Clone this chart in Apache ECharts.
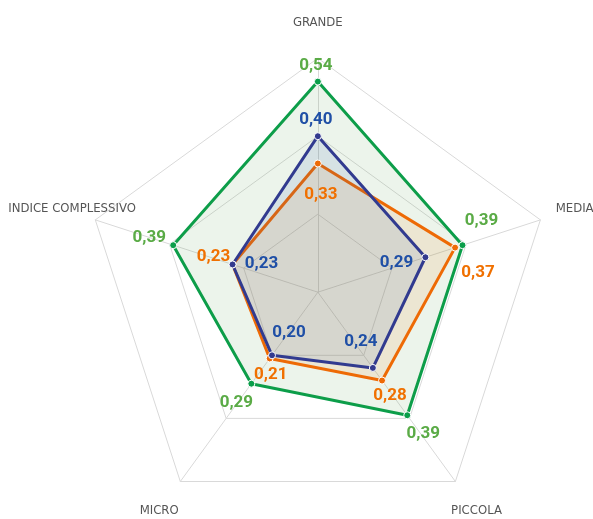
<!DOCTYPE html>
<html>
<head>
<meta charset="utf-8">
<script src="https://cdn.jsdelivr.net/npm/echarts@6/dist/echarts.min.js"></script>
<style>
    html, body { margin: 0; padding: 0; background: #fff; }
    #chart { width: 593px; height: 519px; }
</style>
</head>
<body>
<div id="chart"></div>
<script>
// radar runs counterclockwise from the top
const indicators = ['GRANDE', 'INDICE COMPLESSIVO', 'MICRO', 'PICCOLA', 'MEDIA'];
const maxValue = 0.6;
const valuesGreen = [0.54, 0.39, 0.29, 0.39, 0.39];
const valuesOrange = [0.33, 0.23, 0.21, 0.28, 0.37];
const valuesBlue = [0.40, 0.23, 0.20, 0.24, 0.29];

const nameFont = '"Liberation Sans Narrow", "DejaVu Sans Condensed", sans-serif';

// label offsets (px) from each point, same order as indicators
const offGreen = [[-2, -16], [-24, -7], [-15, 19], [16, 19], [19, -24]];
const offOrange = [[3, 31], [-19, -8], [1, 16], [8, 15], [23, 25]];
const offBlue = [[-2, -16], [29, -1], [17, -23], [-12, -26], [-29, 6]];

function fmt(v) {
    return v.toFixed(2).replace('.', ',');
}

// one hidden item per point, so every label can sit where it wants
function labelItems(values, color, offsets) {
    return values.map(function (v, i) {
        return {
            value: values.map(function (x, j) { return j === i ? x : -1; }),
            symbolSize: 1,
            itemStyle: { color: 'rgba(0,0,0,0)', borderWidth: 0 },
            lineStyle: { opacity: 0 },
            label: {
                show: true,
                color: color,
                position: ['50%', '50%'],
                align: 'center',
                verticalAlign: 'middle',
                offset: offsets[i]
            }
        };
    });
}

function mainSeries(name, values, lineColor, areaColor) {
    return {
        type: 'radar',
        name: name,
        symbol: 'circle',
        symbolSize: 7,
        itemStyle: { color: lineColor, borderColor: '#fff', borderWidth: 1 },
        lineStyle: { color: lineColor, width: 3 },
        areaStyle: { color: areaColor },
        label: { show: false },
        data: [{ value: values, name: name }]
    };
}

let chart = echarts.init(document.getElementById('chart'));

const option = {
    animation: false,
    radar: {
        center: ['53.6%', '56.3%'],
        radius: 234,
        splitNumber: 3,
        shape: 'polygon',
        nameGap: 36,
        indicator: indicators.map(function (n) {
            return { name: n, min: 0, max: maxValue };
        }),
        axisName: {
            color: '#555',
            fontSize: 13,
            fontFamily: nameFont,
            align: 'center',
            verticalAlign: 'middle',
            formatter: function (name) {
                return name === 'INDICE COMPLESSIVO' ? '{shift|' + name + '}' : name;
            },
            rich: {
                shift: { color: '#555', fontSize: 13, fontFamily: nameFont, padding: [0, 0, 0, 22] }
            }
        },
        axisLine: { lineStyle: { color: '#d9d9d9', width: 1 } },
        splitLine: { lineStyle: { color: '#d9d9d9', width: 1 } },
        splitArea: { show: false }
    },
    series: [
        mainSeries('Verde', valuesGreen, '#0a9e4a', 'rgba(75,155,62,0.15)'),
        mainSeries('Arancio', valuesOrange, '#ee6a06', 'rgba(240,110,0,0.15)'),
        mainSeries('Blu', valuesBlue, '#333a8e', 'rgba(31,79,166,0.15)'),
        {
            type: 'radar',
            name: 'etichette',
            silent: true,
            symbol: 'circle',
            label: {
                fontFamily: 'Roboto, sans-serif',
                fontWeight: 'bold',
                fontSize: 17,
                formatter: function (p) {
                    return p.value < 0 ? '' : fmt(p.value);
                }
            },
            data: [].concat(
                labelItems(valuesGreen, '#5aab46', offGreen),
                labelItems(valuesOrange, '#f07000', offOrange),
                labelItems(valuesBlue, '#1f4fa6', offBlue)
            )
        }
    ]
};

chart.setOption(option);
</script>
</body>
</html>
